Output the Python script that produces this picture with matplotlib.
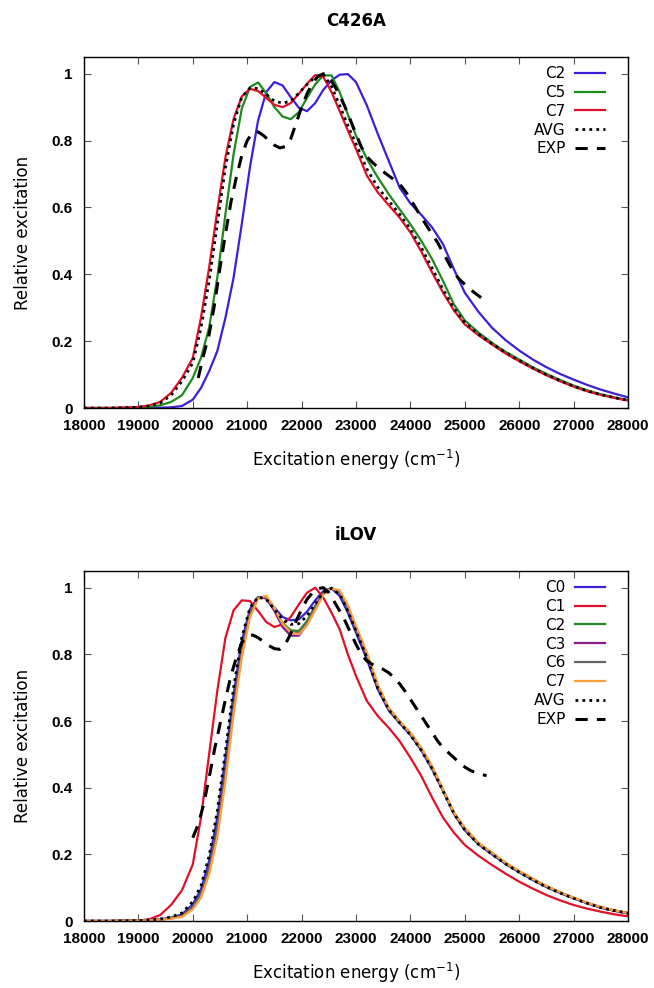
import numpy as np
import matplotlib
matplotlib.use("Agg")
import matplotlib.pyplot as plt

# ---- data ----
grid = [18000, 18500, 19000, 19200, 19400, 19600, 19800, 20000, 20150, 20300,
        20450, 20600, 20750, 20900, 21050, 21200, 21350, 21500, 21650, 21800,
        21950, 22100, 22250, 22400, 22550, 22700, 22850, 23000, 23200, 23400,
        23600, 23800, 24000, 24200, 24400, 24600, 24800, 25000, 25250, 25500,
        25750, 26000, 26250, 26500, 26750, 27000, 27250, 27500, 27750, 28000]

# C426A
top_c2 = [0, 0, 0, 0, 0.001, 0.002, 0.006, 0.025, 0.06, 0.11,
          0.17, 0.27, 0.39, 0.55, 0.72, 0.86, 0.945, 0.975, 0.965, 0.93,
          0.898, 0.888, 0.912, 0.952, 0.98, 0.997, 0.999, 0.975, 0.905, 0.82,
          0.74, 0.66, 0.612, 0.578, 0.54, 0.49, 0.415, 0.345, 0.288, 0.24,
          0.203, 0.172, 0.145, 0.122, 0.102, 0.085, 0.069, 0.055, 0.043, 0.032]
top_c5 = [0, 0, 0.001, 0.003, 0.008, 0.018, 0.038, 0.09, 0.15, 0.24,
          0.39, 0.58, 0.76, 0.895, 0.96, 0.974, 0.942, 0.9, 0.872, 0.864,
          0.885, 0.928, 0.968, 0.995, 0.995, 0.945, 0.878, 0.815, 0.745, 0.69,
          0.64, 0.595, 0.55, 0.5, 0.445, 0.38, 0.31, 0.262, 0.226, 0.195,
          0.168, 0.145, 0.122, 0.102, 0.084, 0.067, 0.053, 0.041, 0.032, 0.024]
top_c7 = [0, 0, 0.003, 0.008, 0.018, 0.045, 0.09, 0.15, 0.27, 0.42,
          0.59, 0.75, 0.865, 0.932, 0.955, 0.948, 0.928, 0.907, 0.9, 0.912,
          0.94, 0.97, 0.996, 0.99, 0.945, 0.888, 0.83, 0.775, 0.695, 0.645,
          0.607, 0.57, 0.525, 0.468, 0.405, 0.345, 0.292, 0.25, 0.218, 0.19,
          0.163, 0.14, 0.118, 0.098, 0.08, 0.064, 0.05, 0.039, 0.03, 0.022]
top_avg = [0, 0, 0.002, 0.006, 0.015, 0.038, 0.08, 0.135, 0.24, 0.38,
           0.55, 0.72, 0.85, 0.93, 0.957, 0.956, 0.938, 0.918, 0.912, 0.918,
           0.942, 0.968, 0.99, 0.998, 0.962, 0.905, 0.845, 0.79, 0.715, 0.66,
           0.62, 0.58, 0.535, 0.48, 0.418, 0.355, 0.298, 0.255, 0.221, 0.192,
           0.166, 0.142, 0.12, 0.1, 0.082, 0.065, 0.051, 0.04, 0.031, 0.023]

top_exp_x = [20100, 20200, 20300, 20400, 20500, 20600, 20700, 20800, 20900, 21000,
             21100, 21200, 21300, 21400, 21500, 21600, 21700, 21800, 21900, 22000,
             22100, 22200, 22300, 22400, 22500, 22600, 22700, 22800, 22900, 23000,
             23100, 23200, 23300, 23400, 23500, 23600, 23700, 23800, 23900, 24000,
             24100, 24200, 24300, 24400, 24500, 24600, 24700, 24800, 24900, 25000,
             25100, 25200, 25300]
top_exp = [0.09, 0.16, 0.22, 0.31, 0.42, 0.52, 0.615, 0.69, 0.755, 0.8,
           0.824, 0.826, 0.815, 0.8, 0.786, 0.778, 0.782, 0.805, 0.852, 0.9,
           0.94, 0.972, 0.992, 1.0, 0.99, 0.965, 0.935, 0.9, 0.86, 0.82,
           0.78, 0.752, 0.735, 0.72, 0.707, 0.695, 0.683, 0.67, 0.65, 0.625,
           0.598, 0.57, 0.545, 0.52, 0.495, 0.465, 0.435, 0.405, 0.385, 0.37,
           0.355, 0.342, 0.33]

# iLOV
bot_c0 = [0, 0, 0.001, 0.002, 0.005, 0.01, 0.02, 0.05, 0.095, 0.18,
          0.31, 0.49, 0.68, 0.84, 0.935, 0.972, 0.968, 0.94, 0.912, 0.902,
          0.905, 0.928, 0.962, 0.99, 0.998, 0.975, 0.925, 0.865, 0.785, 0.695,
          0.632, 0.594, 0.558, 0.512, 0.455, 0.39, 0.322, 0.272, 0.23, 0.2,
          0.171, 0.146, 0.123, 0.102, 0.084, 0.068, 0.053, 0.04, 0.031, 0.023]
bot_c1 = [0, 0, 0.002, 0.005, 0.018, 0.048, 0.092, 0.17, 0.31, 0.5,
          0.69, 0.85, 0.932, 0.962, 0.96, 0.93, 0.897, 0.882, 0.89, 0.912,
          0.95, 0.985, 1.0, 0.97, 0.925, 0.875, 0.8, 0.735, 0.66, 0.615,
          0.58, 0.54, 0.49, 0.435, 0.37, 0.31, 0.265, 0.228, 0.196, 0.168,
          0.142, 0.118, 0.097, 0.078, 0.062, 0.048, 0.037, 0.028, 0.02, 0.014]
bot_c2 = [0, 0, 0.001, 0.002, 0.004, 0.009, 0.017, 0.042, 0.082, 0.16,
          0.28, 0.455, 0.65, 0.815, 0.925, 0.97, 0.97, 0.935, 0.894, 0.872,
          0.87, 0.9, 0.945, 0.985, 0.999, 0.985, 0.938, 0.878, 0.798, 0.703,
          0.637, 0.597, 0.562, 0.516, 0.46, 0.392, 0.323, 0.276, 0.232, 0.203,
          0.173, 0.148, 0.125, 0.104, 0.086, 0.069, 0.054, 0.041, 0.031, 0.024]
bot_c3 = [0, 0, 0.001, 0.002, 0.004, 0.009, 0.016, 0.04, 0.08, 0.155,
          0.275, 0.45, 0.645, 0.812, 0.925, 0.972, 0.968, 0.93, 0.882, 0.856,
          0.856, 0.89, 0.94, 0.983, 0.999, 0.986, 0.94, 0.88, 0.8, 0.705,
          0.638, 0.598, 0.563, 0.517, 0.461, 0.393, 0.324, 0.277, 0.233, 0.204,
          0.174, 0.149, 0.126, 0.104, 0.086, 0.069, 0.054, 0.041, 0.031, 0.024]
bot_c6 = [0, 0, 0.001, 0.002, 0.004, 0.008, 0.015, 0.04, 0.078, 0.152,
          0.27, 0.445, 0.64, 0.808, 0.922, 0.972, 0.972, 0.935, 0.89, 0.866,
          0.865, 0.895, 0.942, 0.984, 0.999, 0.987, 0.94, 0.88, 0.801, 0.706,
          0.638, 0.598, 0.563, 0.517, 0.461, 0.393, 0.324, 0.277, 0.233, 0.204,
          0.174, 0.149, 0.126, 0.105, 0.086, 0.069, 0.054, 0.041, 0.032, 0.024]
bot_c7 = [0, 0, 0.001, 0.002, 0.004, 0.007, 0.012, 0.035, 0.07, 0.14,
          0.25, 0.42, 0.62, 0.79, 0.91, 0.966, 0.976, 0.94, 0.892, 0.866,
          0.86, 0.887, 0.932, 0.978, 0.998, 0.992, 0.948, 0.885, 0.805, 0.71,
          0.64, 0.6, 0.565, 0.52, 0.465, 0.395, 0.326, 0.28, 0.235, 0.205,
          0.175, 0.15, 0.127, 0.105, 0.087, 0.07, 0.055, 0.042, 0.032, 0.024]
bot_avg = [0, 0, 0.001, 0.003, 0.006, 0.012, 0.024, 0.058, 0.105, 0.195,
           0.33, 0.51, 0.7, 0.85, 0.94, 0.972, 0.965, 0.935, 0.905, 0.89,
           0.892, 0.915, 0.952, 0.985, 0.998, 0.98, 0.93, 0.87, 0.79, 0.698,
           0.634, 0.595, 0.558, 0.512, 0.456, 0.39, 0.322, 0.273, 0.23, 0.2,
           0.171, 0.146, 0.123, 0.102, 0.084, 0.068, 0.053, 0.04, 0.031, 0.023]

bot_exp_x = [20000, 20100, 20200, 20300, 20400, 20500, 20600, 20700, 20800, 20900,
             21000, 21100, 21200, 21300, 21400, 21500, 21600, 21700, 21800, 21900,
             22000, 22100, 22200, 22300, 22400, 22500, 22600, 22700, 22800, 22900,
             23000, 23100, 23200, 23300, 23400, 23500, 23600, 23700, 23800, 23900,
             24000, 24100, 24200, 24300, 24400, 24500, 24600, 24700, 24800, 24900,
             25000, 25100, 25200, 25300, 25400]
bot_exp = [0.25, 0.29, 0.35, 0.43, 0.515, 0.59, 0.665, 0.735, 0.79, 0.835,
           0.855, 0.858, 0.85, 0.838, 0.826, 0.817, 0.815, 0.83, 0.862, 0.9,
           0.935, 0.965, 0.985, 0.997, 1.0, 0.985, 0.958, 0.93, 0.9, 0.865,
           0.83, 0.8, 0.78, 0.77, 0.762, 0.755, 0.745, 0.73, 0.712, 0.69,
           0.665, 0.64, 0.615, 0.59, 0.565, 0.54, 0.52, 0.505, 0.49, 0.475,
           0.462, 0.452, 0.445, 0.44, 0.436]

BLUE = "#3d1fd6"
GREEN = "#1e8a1e"
RED = "#e0102a"
PURPLE = "#8b1a8b"
GRAY = "#666666"
ORANGE = "#ff9f3a"


def style_axes(ax, title):
    ax.set_xlim(18000, 28000)
    ax.set_ylim(0, 1.05)
    ax.set_xticks(range(18000, 28001, 1000))
    ax.set_yticks([0, 0.2, 0.4, 0.6, 0.8, 1.0])
    ax.set_yticklabels(["0", "0.2", "0.4", "0.6", "0.8", "1"])
    ax.tick_params(direction="in", top=True, right=True, length=5, width=0.8,
                   color="#555555", pad=8)
    for lbl in ax.get_xticklabels() + ax.get_yticklabels():
        lbl.set_fontfamily("Liberation Sans")
        lbl.set_fontweight("bold")
        lbl.set_fontsize(11)
    for sp in ax.spines.values():
        sp.set_linewidth(1.0)
    ax.set_xlabel("Excitation energy (cm$^{\\mathregular{-1}}$)", fontsize=12, labelpad=11)
    ax.set_ylabel("Relative excitation", fontsize=12, labelpad=14)
    ax.set_title(title, fontsize=12, fontweight="bold", pad=22)
    ax.legend(loc="upper right", bbox_to_anchor=(0.975, 1.0), frameon=False,
              markerfirst=False, fontsize=11, handlelength=2.0,
              handletextpad=0.6, labelspacing=0.25, borderaxespad=0.2)


fig = plt.figure(figsize=(6.54, 9.88), dpi=100)
ax1 = fig.add_axes([84 / 654, 1 - 408 / 988, 544 / 654, 351 / 988])
ax2 = fig.add_axes([84 / 654, 1 - 921 / 988, 544 / 654, 350 / 988])

lw = 1.6
dots = (0, (1, 1.5))
dashes = (0, (4, 3))
ax1.plot(grid, top_c2, color=BLUE, lw=lw, label="C2")
ax1.plot(grid, top_c5, color=GREEN, lw=lw, label="C5")
ax1.plot(grid, top_c7, color=RED, lw=lw, label="C7")
ax1.plot(grid, top_avg, color="black", lw=2.0, ls=dots, label="AVG")
ax1.plot(top_exp_x, top_exp, color="black", lw=2.2, ls=dashes, label="EXP")
style_axes(ax1, "C426A")

ax2.plot(grid, bot_c0, color=BLUE, lw=lw, label="C0")
ax2.plot(grid, bot_c1, color=RED, lw=lw, label="C1")
ax2.plot(grid, bot_c2, color=GREEN, lw=lw, label="C2")
ax2.plot(grid, bot_c3, color=PURPLE, lw=lw, label="C3")
ax2.plot(grid, bot_c6, color=GRAY, lw=lw, label="C6")
ax2.plot(grid, bot_c7, color=ORANGE, lw=lw, label="C7")
ax2.plot(grid, bot_avg, color="black", lw=2.0, ls=dots, label="AVG")
ax2.plot(bot_exp_x, bot_exp, color="black", lw=2.2, ls=dashes, label="EXP")
style_axes(ax2, "iLOV")

fig.savefig("out.png", dpi=100)
